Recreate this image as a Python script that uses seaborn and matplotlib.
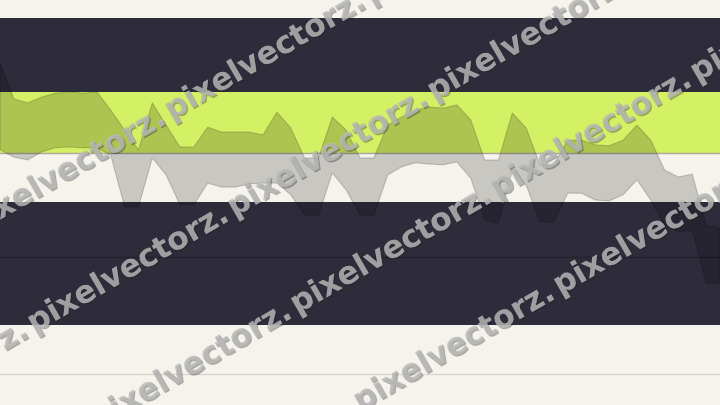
import numpy as np
import pandas as pd
import seaborn as sns
import matplotlib.pyplot as plt
import matplotlib.patheffects as pe

# band limits (value scale 0-100)
steps = list(range(53))
upper = [84.4, 75.6, 74.6, 76.0, 77.0, 77.3, 77.0, 77.3, 72.8, 67.9,
         63.0, 74.6, 69.1, 63.7, 63.7, 68.6, 67.4, 67.4, 67.4, 66.7,
         72.3, 68.4, 61.0, 61.0, 71.1, 67.9, 61.0, 61.0, 69.1, 71.1,
         72.8, 73.6, 73.3, 74.1, 70.4, 60.5, 60.5, 72.1, 68.4, 59.3,
         59.3, 65.4, 65.4, 64.2, 64.0, 65.4, 69.1, 65.4, 58.0, 56.3,
         57.0, 44.4, 43.7]
lower = [63.0, 61.2, 60.5, 62.5, 63.5, 63.7, 63.5, 63.5, 61.7, 48.9,
         48.9, 61.0, 56.8, 49.4, 49.4, 54.8, 53.8, 53.8, 54.6, 54.8,
         54.8, 51.9, 46.9, 46.9, 57.3, 53.1, 46.9, 46.9, 56.8, 58.8,
         59.8, 59.5, 59.3, 60.0, 56.0, 45.7, 44.9, 58.0, 54.3, 45.2,
         45.2, 52.3, 52.3, 50.6, 50.4, 51.9, 55.6, 50.6, 44.4, 42.7,
         43.2, 30.1, 30.1]

# shaded zones and reference lines
zone_lo = [77.3, 62.2, 19.8]
zone_hi = [95.6, 77.3, 50.1]
zone_colors = ['#2e2c3b', '#d4f064', '#2e2c3b']
ref_levels = [62.2, 36.5, 7.7]
ref_colors = ['#a9a79c', '#22212c', '#dad6cd']

CREAM = '#f5f3ec'

sns.set_theme(style='white')
fig = plt.figure(figsize=(7.2, 4.05), dpi=100)
fig.patch.set_facecolor(CREAM)
ax = fig.add_axes([0, 0, 1, 1])
ax.set_facecolor(CREAM)

for lo, hi, c in zip(zone_lo, zone_hi, zone_colors):
    ax.axhspan(lo, hi, color=c, lw=0, zorder=0)
for lvl, c in zip(ref_levels, ref_colors):
    ax.axhline(lvl, color=c, lw=1, zorder=1)

# min/max band through seaborn
df = pd.DataFrame({'step': steps * 2, 'value': upper + lower})
sns.lineplot(data=df, x='step', y='value', errorbar=('pi', 100), color='black',
             lw=0, err_kws={'alpha': 0.18, 'linewidth': 0.8}, ax=ax)

ax.set_xlim(0, 52)
ax.set_ylim(0, 100)
ax.set_xticks([])
ax.set_yticks([])
ax.set_xlabel('')
ax.set_ylabel('')
for s in ax.spines.values():
    s.set_visible(False)

# watermark tiling, four diagonal rows
shadow = [pe.withSimplePatchShadow(offset=(1, -1), shadow_rgbFace='#222222', alpha=0.35),
          pe.Normal()]
base = np.array([230.0, 210.0])
along = np.array([200.0, -116.0])
across = np.array([63.0, 97.0])
for n in range(-1, 3):
    for m in range(-4, 5):
        px, py = base + m * along + n * across
        if -300 < px < 760 and -60 < py < 520:
            fig.text(px / 720, 1 - py / 405, 'pixelvectorz.', rotation=30,
                     rotation_mode='anchor', ha='left', va='center',
                     fontsize=22.5, fontweight='bold', color='#bababa',
                     alpha=0.58, path_effects=shadow, zorder=10)

fig.savefig('out.png', dpi=100, facecolor=CREAM)
